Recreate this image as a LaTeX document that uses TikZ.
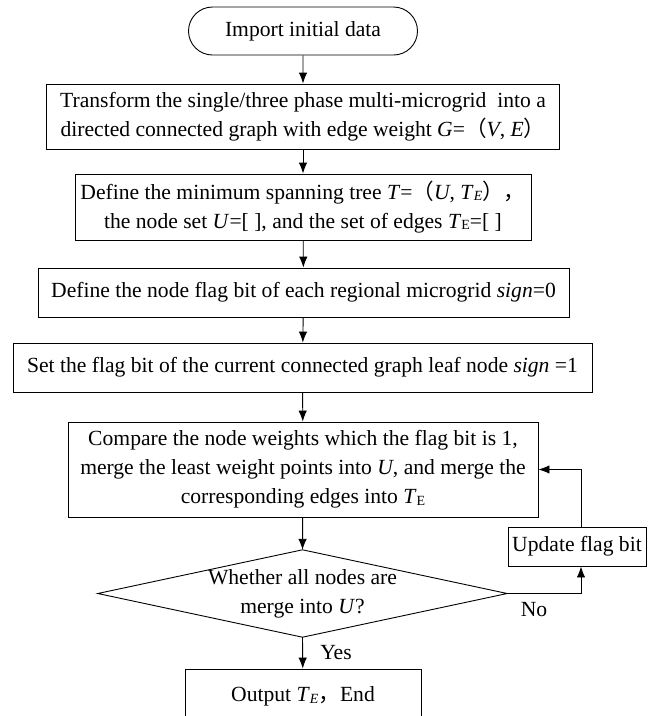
\documentclass[tikz,border=0pt]{standalone}
\usepackage{fontspec}
\setmainfont{Liberation Serif}
\newfontfamily\cjk{Noto Sans CJK SC}
\usetikzlibrary{shapes.misc,arrows.meta,calc}
% small lowered index letter (as in T_E)
\newcommand{\lsub}[1]{\raisebox{-1.5pt}{\fontsize{14}{14}\selectfont #1}}

\begin{document}
\begin{tikzpicture}[x=1pt,y=-1pt,
  every node/.style={font=\fontsize{21.6}{29}\selectfont},
  stepbox/.style={draw, line width=0.9pt, inner sep=0pt, align=center},
  terminal/.style={draw, line width=0.9pt, rounded rectangle, inner sep=0pt},
  decision/.style={inner sep=0pt, align=center},
  flow/.style={line width=0.9pt, -{Latex[length=11pt,width=8.5pt]}},
  lbl/.style={inner sep=0pt}
]
\useasboundingbox (0,0) rectangle (655,716);

\node[terminal, minimum width=229pt, minimum height=48pt] (start) at (303,31) {Import initial data};

\node[stepbox, minimum width=513pt, minimum height=65pt] (graph) at (303,116.5)
  {Transform the single/three phase multi-microgrid\ \ into a\\
   directed connected graph with edge weight \textit{G}={\cjk （}\textit{V}, \textit{E}{\cjk ）}};

\node[stepbox, minimum width=456pt, minimum height=66pt] (tree) at (303,207)
  {Define the minimum spanning tree \textit{T}={\cjk （}\textit{U}, \textit{T}\lsub{\textit{E}}{\cjk ），}\\
   the node set \textit{U}=[ ], and the set of edges \textit{T}\lsub{E}=[ ]};

\node[stepbox, minimum width=531pt, minimum height=49pt] (flag) at (303.5,292.5)
  {Define the node flag bit of each regional microgrid \textit{sign}=0};

\node[stepbox, minimum width=579pt, minimum height=49pt] (leaf) at (302.5,367.5)
  {Set the flag bit of the current connected graph leaf node \textit{sign} =1};

\node[stepbox, minimum width=470pt, minimum height=95pt] (merge) at (303,469.5)
  {Compare the node weights which the flag bit is 1,\\
   merge the least weight points into \textit{U}, and merge the\\
   corresponding edges into \textit{T}\lsub{E}};

% decision: text box, outline drawn through its side midpoints
\node[decision, minimum width=409pt, minimum height=87pt] (check) at (302.5,593.5)
  {Whether all nodes are\\ merge into \textit{U}?};
\draw[line width=0.9pt] (check.north) -- (check.east) -- (check.south) -- (check.west) -- cycle;

\node[stepbox, minimum width=138pt, minimum height=39pt] (update) at (577,546.5)
  {Update flag bit};

\node[stepbox, minimum width=236pt, minimum height=55pt] (output) at (303,696.5)
  {Output \textit{T}\lsub{\textit{E}}{\cjk ，}End};

% main sequence
\draw[flow] (start) -- (graph);
\draw[flow] (graph) -- (tree);
\draw[flow] (tree) -- (flag);
\draw[flow] (flag) -- (leaf);
\draw[flow] (leaf) -- (merge);
\draw[flow] (merge) -- (check.north);
\draw[flow] (check.south) -- (output);

% loop back when not finished
\coordinate (uin) at ($(update.south)+(4,0)$);
\coordinate (uout) at ($(update.north)+(4,0)$);
\draw[flow] (check.east) -| (uin);
\draw[flow] (uout) |- (merge.east);

\node[lbl] (yes) at (336,653) {Yes};
\node[lbl] (no) at (534,610) {No};
\end{tikzpicture}
\end{document}
